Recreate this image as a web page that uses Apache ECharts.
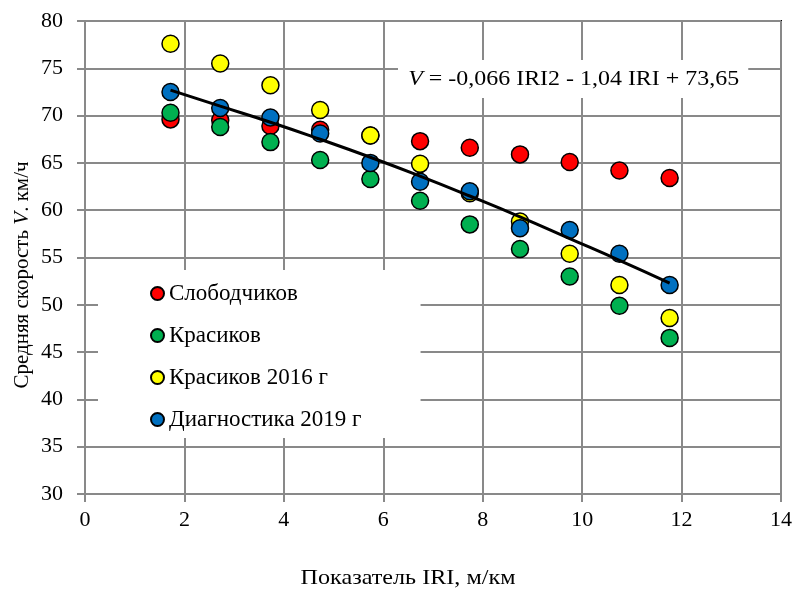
<!DOCTYPE html>
<html>
<head>
<meta charset="utf-8">
<script src="https://cdn.jsdelivr.net/npm/echarts@6/dist/echarts.min.js"></script>
<style>
html,body{margin:0;padding:0;background:#fff;}
#chart{width:797px;height:592px;}
</style>
</head>
<body>
<div id="chart"></div>
<script>
// ---- data ----
const iri = [1.72, 2.72, 3.73, 4.73, 5.74, 6.74, 7.74, 8.75, 9.75, 10.75, 11.76];
const slobodchikov = [69.6, 69.5, 68.9, 68.5, 67.9, 67.3, 66.6, 65.9, 65.1, 64.2, 63.4];
const krasikov = [70.3, 68.8, 67.2, 65.3, 63.3, 61.0, 58.5, 55.9, 53.0, 49.9, 46.5];
const krasikov2016 = [77.6, 75.5, 73.2, 70.6, 67.9, 64.9, 61.8, 58.8, 55.4, 52.1, 48.6];
const diagnostika2019 = [72.5, 70.8, 69.8, 68.1, 65.0, 63.0, 62.0, 58.1, 57.9, 55.4, 52.1];
const trendY = [72.7, 71.0, 69.3, 67.5, 65.6, 63.6, 61.5, 59.3, 57.0, 54.7, 52.3];
const seriesNames = ['Слободчиков', 'Красиков', 'Красиков 2016 г', 'Диагностика 2019 г'];
const seriesColors = ['#FF0000', '#00B050', '#FFFF00', '#0070C0'];
const xTitle = 'Показатель IRI, м/км';
const yTitleParts = ['Средняя скорость ', 'V', '. км/ч'];
const equationParts = ['V', ' = -0,066 IRI2 - 1,04 IRI + 73,65'];

const FONT = '"Liberation Serif", "Times New Roman", serif';
const FS = 21;
const GRID = '#898989';

const pairs = arr => iri.map((x, i) => [x, arr[i]]);
const values = [slobodchikov, krasikov, krasikov2016, diagnostika2019];

const scatterSeries = values.map((v, i) => ({
  name: seriesNames[i],
  type: 'scatter',
  data: pairs(v),
  symbol: 'circle',
  symbolSize: 17,
  itemStyle: { color: seriesColors[i], borderColor: '#000', borderWidth: 1.5, opacity: 1 },
  emphasis: { disabled: true },
  z: 2 + i * 0.01
}));

const chart = echarts.init(document.getElementById('chart'), null, { renderer: 'canvas' });
chart.setOption({
  animation: false,
  backgroundColor: '#fff',
  textStyle: { fontFamily: FONT },
  grid: { left: 85, right: 16, top: 21, bottom: 98, show: true, borderColor: '#000', borderWidth: 2, backgroundColor: 'transparent' },
  xAxis: {
    type: 'value', min: 0, max: 14, interval: 2,
    axisLine: { show: true, lineStyle: { color: GRID, width: 2 } },
    axisTick: { show: true, length: 8, lineStyle: { color: GRID, width: 2 } },
    axisLabel: { color: '#000', fontFamily: FONT, fontSize: 22, margin: 15 },
    splitLine: { show: true, lineStyle: { color: GRID, width: 2 } }
  },
  yAxis: {
    type: 'value', min: 30, max: 80, interval: 5,
    axisLine: { show: true, lineStyle: { color: GRID, width: 2 } },
    axisTick: { show: true, length: 8, lineStyle: { color: GRID, width: 2 } },
    axisLabel: { color: '#000', fontFamily: FONT, fontSize: 22, margin: 22 },
    splitLine: { show: true, lineStyle: { color: GRID, width: 2 } }
  },
  legend: {
    data: seriesNames,
    orient: 'vertical',
    left: 98, top: 270,
    padding: [12, 59, 7, 52],
    backgroundColor: '#fff',
    itemWidth: 13, itemHeight: 13,
    itemGap: 19,
    icon: 'circle',
    textStyle: { color: '#000', fontFamily: FONT, fontSize: 23, lineHeight: 23 },
    selectedMode: false,
    z: 10
  },
  series: scatterSeries.concat([{
    name: 'trend',
    type: 'line',
    data: pairs(trendY),
    symbol: 'none',
    smooth: true,
    lineStyle: { color: '#000', width: 3 },
    z: 5,
    silent: true
  }]),
  graphic: [
    {
      type: 'text', x: 398, y: 60, scaleX: 1.14, z: 20,
      style: {
        text: '{i|' + equationParts[0] + '}' + equationParts[1],
        font: FS + 'px ' + FONT,
        fill: '#000',
        backgroundColor: '#fff',
        padding: [9, 8, 8, 9],
        rich: { i: { fontStyle: 'italic', fontFamily: FONT, fontSize: FS, fill: '#000' } }
      }
    },
    {
      type: 'text', x: 408, y: 578, scaleX: 1.15, z: 20,
      style: { text: xTitle, font: FS + 'px ' + FONT, fill: '#000', align: 'center', verticalAlign: 'middle' }
    },
    {
      type: 'text', x: 22, y: 275, rotation: Math.PI / 2, z: 20,
      style: {
        text: yTitleParts[0] + '{i|' + yTitleParts[1] + '}' + yTitleParts[2],
        font: FS + 'px ' + FONT, fill: '#000', align: 'center', verticalAlign: 'middle',
        rich: { i: { fontStyle: 'italic', fontFamily: FONT, fontSize: FS, fill: '#000' } }
      }
    }
  ]
});
</script>
</body>
</html>
